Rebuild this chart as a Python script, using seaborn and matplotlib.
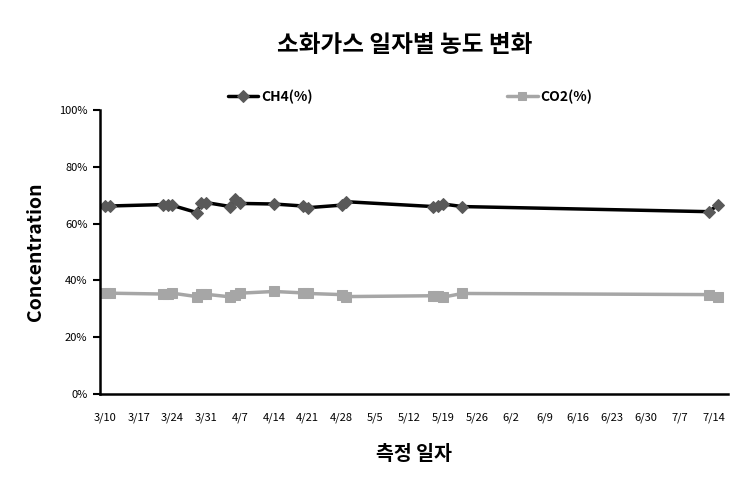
import matplotlib
matplotlib.use("Agg")
import matplotlib.pyplot as plt
import seaborn as sns
import pandas as pd
import numpy as np
from matplotlib.ticker import FuncFormatter

sns.set_style("white")
plt.rcParams['font.family'] = ['Noto Sans CJK KR', 'DejaVu Sans']
plt.rcParams['text.color'] = 'black'
plt.rcParams['axes.labelcolor'] = 'black'
plt.rcParams['xtick.color'] = 'black'
plt.rcParams['ytick.color'] = 'black'

# data
dates = ["3/10", "3/11", "3/22", "3/23", "3/24", "3/29", "3/30", "3/31",
         "4/5", "4/6", "4/7", "4/14", "4/20", "4/21", "4/28", "4/29",
         "5/17", "5/18", "5/19", "5/23", "7/13", "7/15"]
ch4 = [66.2, 66.2, 66.7, 66.4, 66.4, 63.9, 67.2, 67.4,
       66.0, 68.6, 67.1, 66.9, 66.2, 65.6, 66.5, 67.7,
       66.0, 66.2, 66.9, 66.0, 64.2, 66.6]
co2 = [35.5, 35.5, 35.2, 35.2, 35.5, 34.3, 35.1, 35.1,
       34.2, 35.0, 35.5, 36.1, 35.6, 35.4, 35.0, 34.3,
       34.6, 34.4, 34.1, 35.4, 35.0, 34.2]
tick_labels = ["3/10", "3/17", "3/24", "3/31", "4/7", "4/14", "4/21", "4/28",
               "5/5", "5/12", "5/19", "5/26", "6/2", "6/9", "6/16", "6/23",
               "6/30", "7/7", "7/14"]
series_names = ["CH4(%)", "CO2(%)"]
title = "소화가스 일자별 농도 변화"
xlabel = "측정 일자"
ylabel = "Concentration"

year = 2010
def to_dt(s):
    m, d = s.split("/")
    return pd.Timestamp(year=year, month=int(m), day=int(d))

df = pd.DataFrame({"date": [to_dt(s) for s in dates], "ch4": ch4, "co2": co2})
tick_dt = [to_dt(s) for s in tick_labels]

fig = plt.figure(figsize=(7.36, 4.83), dpi=100)
ax = fig.add_axes([100/736, (483-394)/483, (728-100)/736, (394-110)/483])

sns.lineplot(data=df, x="date", y="ch4", ax=ax, color="black", lw=2.5,
             marker="D", markersize=6.5, markerfacecolor="#595959",
             markeredgecolor="#595959", label=series_names[0])
sns.lineplot(data=df, x="date", y="co2", ax=ax, color="#A6A6A6", lw=2.5,
             marker="s", markersize=7.5, markerfacecolor="#A6A6A6",
             markeredgecolor="#A6A6A6", label=series_names[1])

ax.set_ylim(0, 100)
ax.set_yticks(np.arange(0, 101, 20))
ax.yaxis.set_major_formatter(FuncFormatter(lambda v, p: f"{int(v)}%"))
ax.set_xlim(to_dt("3/10") - pd.Timedelta(days=1.0), to_dt("3/10") + pd.Timedelta(days=129))
ax.set_xticks(tick_dt)
ax.set_xticklabels(tick_labels)

for s in ["top", "right"]:
    ax.spines[s].set_visible(False)
for s in ["left", "bottom"]:
    ax.spines[s].set_color("black")
    ax.spines[s].set_linewidth(1.8)

ax.tick_params(axis="y", which="both", left=True, direction="out", length=5,
               width=1.5, labelsize=8, pad=4, color="black")
ax.tick_params(axis="x", bottom=False, labelsize=8, pad=10)

ax.set_xlabel(xlabel, fontsize=14, fontweight="bold", labelpad=16)
ax.set_ylabel(ylabel, fontsize=14, fontweight="bold", labelpad=10)

fig.text(405/736, 1 - 45/483, title, ha="center", va="center",
         fontsize=17, fontweight="bold")

leg = ax.legend(loc="center", bbox_to_anchor=(410/736, 1 - 97/483),
                bbox_transform=fig.transFigure, ncol=2, frameon=False,
                columnspacing=14, handlelength=2.2, handletextpad=0.2,
                prop={"weight": "bold", "size": 10})
for h in leg.legend_handles:
    h.set_markersize(6)

fig.savefig("out.png", dpi=100)
